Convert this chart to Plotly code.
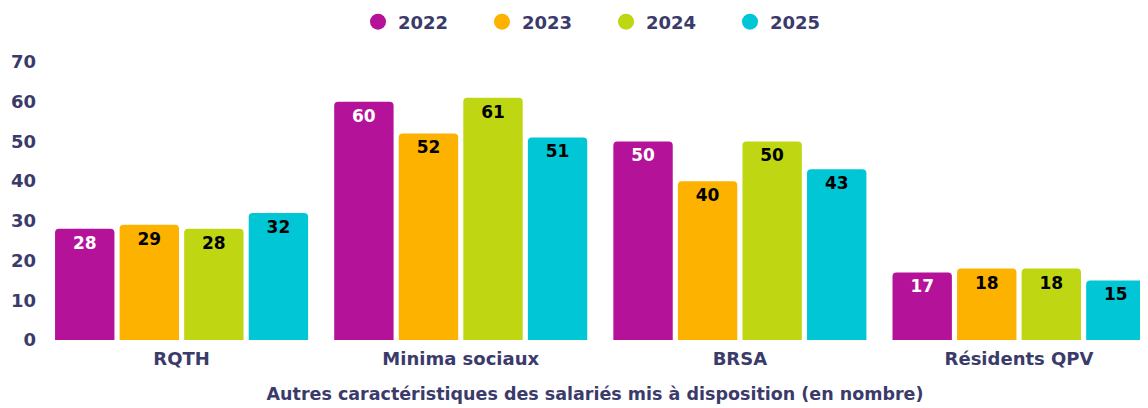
import plotly.graph_objects as go

categories = ["RQTH", "Minima sociaux", "BRSA", "Résidents QPV"]
years = ["2022", "2023", "2024", "2025"]
v2022 = [28, 60, 50, 17]
v2023 = [29, 52, 40, 18]
v2024 = [28, 61, 50, 18]
v2025 = [32, 51, 43, 15]
series = [v2022, v2023, v2024, v2025]
colors = ["#B5129A", "#FDB200", "#BFD612", "#00C6D6"]
text_colors = ["white", "black", "black", "black"]
y_ticks = [0, 10, 20, 30, 40, 50, 60, 70]
x_title = "Autres caractéristiques des salariés mis à disposition (en nombre)"

NAVY = "#3B3B6B"
FONT = "DejaVu Sans"

# the page body adds an 8px margin, so the figure is 8px smaller
W, H = 1140, 400

fig = go.Figure()
for yr, vals, c, tc in zip(years, series, colors, text_colors):
    fig.add_trace(go.Bar(
        x=categories, y=vals, name=yr, showlegend=False,
        marker=dict(color=c, cornerradius=4, line=dict(width=0)),
        text=[str(v) for v in vals], textposition="inside",
        insidetextanchor="end", textangle=0,
        textfont=dict(family=FONT, size=17, color=tc, weight="bold"),
        cliponaxis=True,
    ))
for yr, c in zip(years, colors):
    fig.add_trace(go.Scatter(
        x=[None], y=[None], mode="markers", name=yr,
        marker=dict(color=c, size=20, symbol="circle"),
    ))

fig.update_layout(
    width=W, height=H,
    margin=dict(l=34, r=0, t=54, b=68, autoexpand=False),
    paper_bgcolor="white", plot_bgcolor="white",
    barmode="group", bargap=0.075, bargroupgap=0.08,
    font=dict(family=FONT, color=NAVY, size=16, weight="bold"),
    legend=dict(
        orientation="h", xref="container", yref="container",
        x=350 / W, xanchor="left", y=1 - 14 / H, yanchor="middle",
        font=dict(family=FONT, size=18, color=NAVY, weight="bold"),
        entrywidth=79, itemsizing="trace",
    ),
    xaxis=dict(
        range=[-0.5, 3.462], showgrid=False, showline=False, ticks="",
        ticklabelstandoff=6, automargin=False,
        tickfont=dict(family=FONT, size=18, color=NAVY, weight="bold"),
        title=dict(text=x_title, standoff=19,
                   font=dict(family=FONT, size=17.5, color=NAVY, weight="bold")),
    ),
    yaxis=dict(
        range=[0, 70], tickvals=y_ticks, showgrid=False, zeroline=False,
        showline=False, ticks="", ticklabelstandoff=5, automargin=False,
        tickfont=dict(family=FONT, size=18, color=NAVY, weight="bold"),
    ),
)

fig.write_html("out.html")
